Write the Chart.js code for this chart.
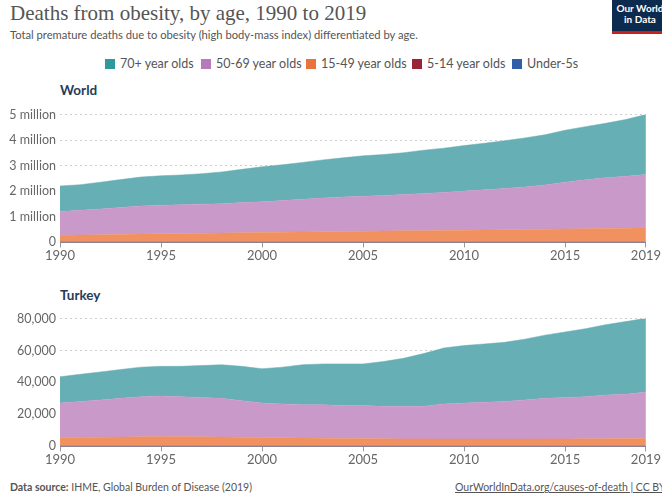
<!DOCTYPE html>
<html>
<head>
<meta charset="utf-8">
<script src="https://cdn.jsdelivr.net/npm/chart.js@4"></script>
<style>
  body { margin: 0; background: #fff; font-family: Lato, sans-serif; }
  #wrap { position: relative; width: 662px; height: 500px; overflow: hidden; }
  .abs { position: absolute; }
  #title { left: 10px; top: 1px; font-family: "Liberation Serif", serif; font-size: 21px; color: #555; white-space: nowrap; }
  #subtitle { left: 10px; top: 28px; font-size: 11.2px; color: #555; white-space: nowrap; }
  #logo { left: 612px; top: 0; width: 56px; height: 28px; background: #0d2a4f; border-bottom: 3px solid #c8201e;
          color: #fff; font-size: 10px; font-weight: bold; line-height: 11px; text-align: center; padding-top: 3px; box-sizing: content-box; }
  #legend { left: 0; top: 56px; width: 662px; font-size: 12.5px; color: #555; white-space: nowrap; }
  #legend span.item { position: absolute; top: 0; }
  #legend i { display: inline-block; width: 10px; height: 10px; margin-right: 5px; vertical-align: -1px; }
  .region { left: 60px; font-size: 13.5px; font-weight: bold; color: #263c57; }
  #source { left: 10px; top: 481px; font-size: 10.5px; color: #555; }
  #link { left: 455px; top: 481px; font-size: 10.5px; color: #555; text-decoration: underline; white-space: nowrap; }
  canvas { position: absolute; left: 0; }
</style>
</head>
<body>
<div id="wrap">
  <div id="title" class="abs">Deaths from obesity, by age, 1990 to 2019</div>
  <div id="subtitle" class="abs">Total premature deaths due to obesity (high body-mass index) differentiated by age.</div>
  <div id="logo" class="abs">Our World<br>in Data</div>
  <div id="legend" class="abs"></div>
  <div class="abs region" style="top:82px">World</div>
  <div class="abs region" style="top:287px">Turkey</div>
  <canvas id="world" width="662" height="162" style="top:103px"></canvas>
  <canvas id="turkey" width="662" height="162" style="top:307px"></canvas>
  <div id="source" class="abs"><b>Data source:</b> IHME, Global Burden of Disease (2019)</div>
  <div id="link" class="abs">OurWorldInData.org/causes-of-death | CC BY</div>
</div>
<script>
const years = [1990,1991,1992,1993,1994,1995,1996,1997,1998,1999,2000,2001,2002,2003,2004,
               2005,2006,2007,2008,2009,2010,2011,2012,2013,2014,2015,2016,2017,2018,2019];
const yearTicks = [1990, 1995, 2000, 2005, 2010, 2015, 2019];

// World, deaths
const worldUnder5 = Array(30).fill(1500);
const world5to14 = Array(30).fill(3500);
const world15to49 = [270000,280000,290000,300000,320000,330000,340000,350000,360000,370000,380000,390000,400000,410000,420000,
                     430000,440000,450000,450000,460000,470000,480000,490000,500000,510000,520000,530000,540000,550000,565000];
const world50to69 = [930000,970000,1010000,1060000,1100000,1120000,1130000,1140000,1150000,1180000,1200000,1240000,1280000,1320000,1350000,
                     1370000,1390000,1420000,1460000,1490000,1530000,1570000,1610000,1660000,1730000,1830000,1910000,1980000,2030000,2080000];
const world70plus = [1000000,1000000,1050000,1090000,1130000,1150000,1160000,1190000,1240000,1300000,1370000,1400000,1440000,1490000,1530000,
                     1580000,1600000,1630000,1690000,1730000,1780000,1820000,1870000,1920000,1960000,2030000,2080000,2130000,2220000,2350000];

// Turkey, deaths
const turkeyUnder5 = Array(30).fill(20);
const turkey5to14 = Array(30).fill(60);
const turkey15to49 = [5500,5600,5700,5800,5900,6000,6000,5900,5800,5700,5500,5300,5100,5000,4900,
                      4800,4700,4600,4600,4500,4500,4500,4500,4500,4600,4600,4700,4700,4800,4800];
const turkey50to69 = [21500,22400,23300,24200,25100,25500,25000,24600,24200,22800,21500,21200,20900,21000,20600,
                      20700,20300,20400,20400,22000,22500,23000,23500,24500,25400,25900,26300,27300,27700,29200];
const turkey70plus = [16500,17000,17500,18000,18500,18500,19000,20000,21000,21500,21500,23000,25000,25500,26000,
                      26000,28000,30000,33000,35000,36000,36500,37000,38000,39500,41000,42500,44000,45500,46000];

const seriesNames = ['Under-5s', '5-14 year olds', '15-49 year olds', '50-69 year olds', '70+ year olds'];
const legendColors = ['#2f5fa8', '#97253a', '#e8743b', '#b57cb9', '#2f9a9c'];
const areaColors = ['#4d76b8', '#a84858', '#f0915f', '#c899c9', '#66afb5'];

// legend, shown in reverse order like the original
const legendX = [512, 412, 306, 201, 105];
const legend = document.getElementById('legend');
seriesNames.forEach((name, i) => {
  const s = document.createElement('span');
  s.className = 'item';
  s.style.left = legendX[i] + 'px';
  s.innerHTML = '<i style="background:' + legendColors[i] + '"></i>' + name;
  legend.appendChild(s);
});

function makeChart(id, series, yMax, yStep, fmt) {
  const datasets = series.map((values, i) => ({
    label: seriesNames[i],
    data: values,
    backgroundColor: areaColors[i],
    borderColor: areaColors[i],
    borderWidth: 0.5,
    pointRadius: 0,
    fill: i === 0 ? 'origin' : '-1',
    tension: 0
  }));
  return new Chart(document.getElementById(id), {
    type: 'line',
    data: { labels: years, datasets: datasets },
    options: {
      responsive: false,
      animation: false,
      layout: { padding: { top: 6, right: 12, left: 0, bottom: 0 } },
      plugins: { legend: { display: false }, tooltip: { enabled: false } },
      scales: {
        x: {
          type: 'linear',
          min: 1990,
          max: 2019,
          afterBuildTicks: axis => { axis.ticks = yearTicks.map(v => ({ value: v })); },
          grid: { drawOnChartArea: false, color: '#999', tickLength: 5 },
          border: { color: '#999' },
          ticks: { color: '#666', font: { family: 'Lato', size: 13 }, padding: 1, maxRotation: 0, callback: v => String(v) }
        },
        y: {
          stacked: true,
          min: 0,
          max: yMax,
          afterFit: scale => { scale.width = 60; },
          grid: { color: '#cfcfcf', drawTicks: false, lineWidth: 1 },
          border: { display: false, dash: [2, 3] },
          ticks: { stepSize: yStep, color: '#666', font: { family: 'Lato', size: 12.5 }, padding: 4, callback: fmt }
        }
      }
    }
  });
}

makeChart('world', [worldUnder5, world5to14, world15to49, world50to69, world70plus], 5000000, 1000000,
  v => v === 0 ? '0' : (v / 1000000) + ' million');
makeChart('turkey', [turkeyUnder5, turkey5to14, turkey15to49, turkey50to69, turkey70plus], 80000, 20000,
  v => v.toLocaleString('en-US'));
</script>
</body>
</html>
